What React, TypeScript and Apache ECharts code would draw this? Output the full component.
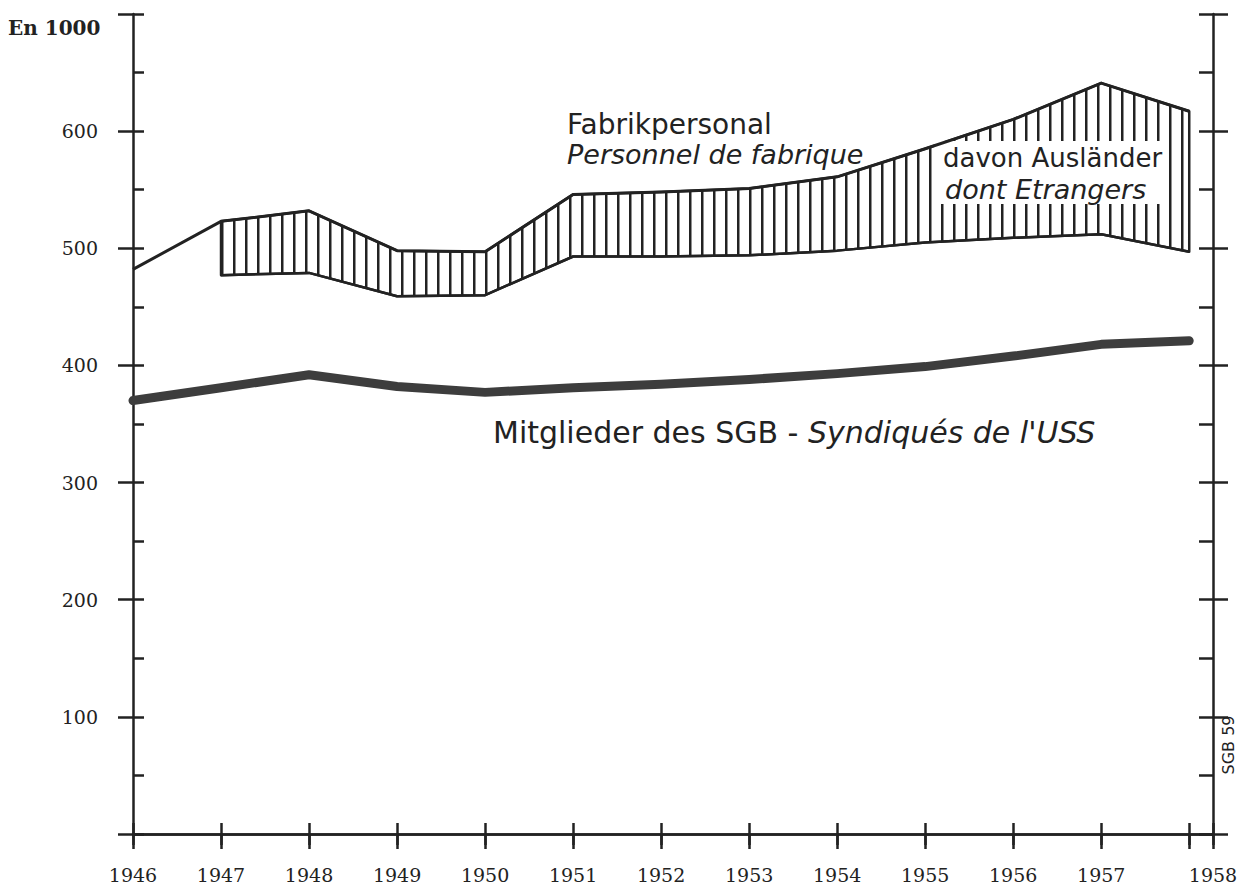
import React, { useEffect, useRef } from 'react';
import * as echarts from 'echarts';

// Years of the horizontal axis
const years = [1946, 1947, 1948, 1949, 1950, 1951, 1952, 1953, 1954, 1955, 1956, 1957, 1958];
// Fabrikpersonal – Personnel de fabrique (in 1000)
const factoryStaff = [482, 523, 532, 498, 497, 546, 548, 551, 561, 585, 610, 641, 617];
// Years for which foreigners are shown (hatched band)
const bandYears = [1947, 1948, 1949, 1950, 1951, 1952, 1953, 1954, 1955, 1956, 1957, 1958];
// davon Ausländer – dont Etrangers (in 1000)
const foreignWorkers = [46, 53, 39, 37, 53, 55, 57, 63, 80, 101, 129, 120];
// Mitglieder des SGB – Syndiqués de l'USS (in 1000)
const unionMembers = [370, 381, 392, 382, 377, 381, 384, 388, 393, 399, 408, 418, 421];
// Y axis tick labels
const yLabels = [100, 200, 300, 400, 500, 600];

const X_MIN = 1946;
const X_MAX = 1958.27;
const Y_MIN = 0;
const Y_MAX = 700;

const INK = '#222222';
const SERIF = '"DejaVu Serif", "Liberation Serif", serif';
const SANS = '"DejaVu Sans", "Noto Sans", sans-serif';

export default function App() {
  const ref = useRef<HTMLDivElement>(null);

  useEffect(() => {
    if (!ref.current) return;
    const chart = echarts.init(ref.current, undefined, { renderer: 'svg' });

    const canvas = document.createElement('canvas');
    canvas.width = 12;
    canvas.height = 12;
    const ctx = canvas.getContext('2d');
    if (ctx) {
      ctx.clearRect(0, 0, 12, 12);
      ctx.fillStyle = INK;
      ctx.fillRect(5, 0, 2.5, 12);
    }
    const hatch: any = { image: canvas, repeat: 'repeat', imageWidth: 12, imageHeight: 12 };

    const totalAt = (y: number) => factoryStaff[years.indexOf(y)];
    const swissStaff = bandYears.map((y, i) => totalAt(y) - foreignWorkers[i]);

    const axisLine = { show: true, lineStyle: { color: INK, width: 2.5 } };
    const tickStyle = { color: INK, width: 2.5 };

    const xLabelFmt = (v: number) => {
      if (v > 1958.01) return '1958';
      if (Math.abs(v - 1958) < 0.001) return '';
      return String(Math.round(v));
    };

    const option: any = {
      animation: false,
      backgroundColor: '#ffffff',
      grid: { left: 133, right: 24, top: 14, bottom: 55, containLabel: false, outerBoundsMode: 'none' },
      xAxis: [
        {
          type: 'value', position: 'bottom', min: X_MIN, max: X_MAX, interval: 1,
          axisLine, axisTick: { show: true, inside: false, length: 11, lineStyle: tickStyle },
          axisLabel: { show: true, margin: 31, formatter: xLabelFmt, showMinLabel: true, showMaxLabel: true, hideOverlap: false,
            fontFamily: SERIF, fontSize: 19, color: INK },
          splitLine: { show: false },
        },
        {
          type: 'value', position: 'bottom', min: X_MIN, max: X_MAX, interval: 1,
          axisLine: { show: false }, axisTick: { show: true, inside: true, length: 11, lineStyle: tickStyle },
          axisLabel: { show: false }, splitLine: { show: false },
        },
        {
          type: 'value', position: 'top', min: X_MIN, max: X_MAX, interval: 1,
          axisLine, axisTick: { show: true, inside: true, length: 15, lineStyle: tickStyle },
          axisLabel: { show: false }, splitLine: { show: false },
        },
      ],
      yAxis: [
        {
          type: 'value', position: 'left', min: Y_MIN, max: Y_MAX, interval: 100,
          axisLine, axisTick: { show: true, inside: false, length: 15, lineStyle: tickStyle },
          axisLabel: { show: true, margin: 35, formatter: (v: number) => (yLabels.indexOf(v) >= 0 ? String(v) : ''),
            fontFamily: SERIF, fontSize: 19, color: INK },
          splitLine: { show: false },
        },
        {
          type: 'value', position: 'left', min: Y_MIN, max: Y_MAX, interval: 50,
          axisLine: { show: false }, axisTick: { show: true, inside: true, length: 11, lineStyle: tickStyle },
          axisLabel: { show: false }, splitLine: { show: false },
        },
        {
          type: 'value', position: 'right', min: Y_MIN, max: Y_MAX, interval: 100,
          axisLine, axisTick: { show: true, inside: false, length: 15, lineStyle: tickStyle },
          axisLabel: { show: false }, splitLine: { show: false },
        },
        {
          type: 'value', position: 'right', min: Y_MIN, max: Y_MAX, interval: 50,
          axisLine: { show: false }, axisTick: { show: true, inside: true, length: 14, lineStyle: tickStyle },
          axisLabel: { show: false }, splitLine: { show: false },
        },
      ],
      series: [
        {
          type: 'custom',
          name: 'davon Ausländer',
          xAxisIndex: 0, yAxisIndex: 0,
          data: bandYears.map((y, i) => [y, swissStaff[i], totalAt(y)]),
          encode: { x: 0, y: [1, 2] },
          renderItem: (params: any, api: any) => {
            if (params.dataIndex !== 0) return null;
            const top = bandYears.map((y) => api.coord([y, totalAt(y)]));
            const bottom = bandYears.map((y, i) => api.coord([y, swissStaff[i]])).reverse();
            return {
              type: 'polygon',
              shape: { points: top.concat(bottom) },
              style: { fill: hatch, stroke: INK, lineWidth: 2.5, lineJoin: 'round' },
            };
          },
          z: 1,
        },
        {
          type: 'line', name: 'Fabrikpersonal', xAxisIndex: 0, yAxisIndex: 0,
          data: years.map((y, i) => [y, factoryStaff[i]]),
          symbol: 'none', lineStyle: { color: INK, width: 3, join: 'round' }, z: 3,
        },
        {
          type: 'line', name: 'Schweizer', xAxisIndex: 0, yAxisIndex: 0,
          data: bandYears.map((y, i) => [y, swissStaff[i]]),
          symbol: 'none', lineStyle: { color: INK, width: 2.5, join: 'round' }, z: 3,
        },
        {
          type: 'line', name: 'Mitglieder des SGB', xAxisIndex: 0, yAxisIndex: 0,
          data: years.map((y, i) => [y, unionMembers[i]]),
          symbol: 'none', lineStyle: { color: '#3d3d3d', width: 9, cap: 'round', join: 'round' }, z: 3,
        },
      ],
      graphic: [
        { type: 'text', x: 8, y: 28, z: 100,
          style: { text: 'En 1000', font: `bold 20px ${SERIF}`, fill: INK, align: 'left', verticalAlign: 'middle' } },
        { type: 'text', x: 567, y: 124, z: 100,
          style: { text: 'Fabrikpersonal', font: `28px ${SANS}`, fill: INK, align: 'left', verticalAlign: 'middle' } },
        { type: 'text', x: 567, y: 154, z: 100,
          style: { text: 'Personnel de fabrique', font: `italic 27px ${SANS}`, fill: INK, align: 'left', verticalAlign: 'middle' } },
        { type: 'rect', z: 2, shape: { x: 935, y: 141, width: 226, height: 63 },
          style: { fill: '#ffffff', stroke: null } },
        { type: 'text', x: 943, y: 158, z: 100,
          style: { text: 'davon Ausländer', font: `26px ${SANS}`, fill: INK, align: 'left', verticalAlign: 'middle' } },
        { type: 'text', x: 945, y: 189, z: 100,
          style: { text: 'dont Etrangers', font: `italic 27px ${SANS}`, fill: INK, align: 'left', verticalAlign: 'middle' } },
        { type: 'text', x: 493, y: 432, z: 100,
          style: {
            text: '{a|Mitglieder des SGB - }{b|Syndiqués de l\'USS}',
            align: 'left', verticalAlign: 'middle',
            rich: {
              a: { fontFamily: SANS, fontSize: 30, fill: INK, color: INK },
              b: { fontFamily: SANS, fontSize: 30, fontStyle: 'italic', fill: INK, color: INK },
            },
          } },
        { type: 'text', x: 1228, y: 745, z: 100, rotation: Math.PI / 2,
          style: { text: 'SGB 59', font: `16px ${SANS}`, fill: INK, align: 'center', verticalAlign: 'middle' } },
      ],
    };

    chart.setOption(option);
    return () => chart.dispose();
  }, []);

  return (
    <div
      ref={ref}
      style={{ position: 'absolute', left: 0, top: 0, width: 1237, height: 889, background: '#ffffff' }}
    />
  );
}
